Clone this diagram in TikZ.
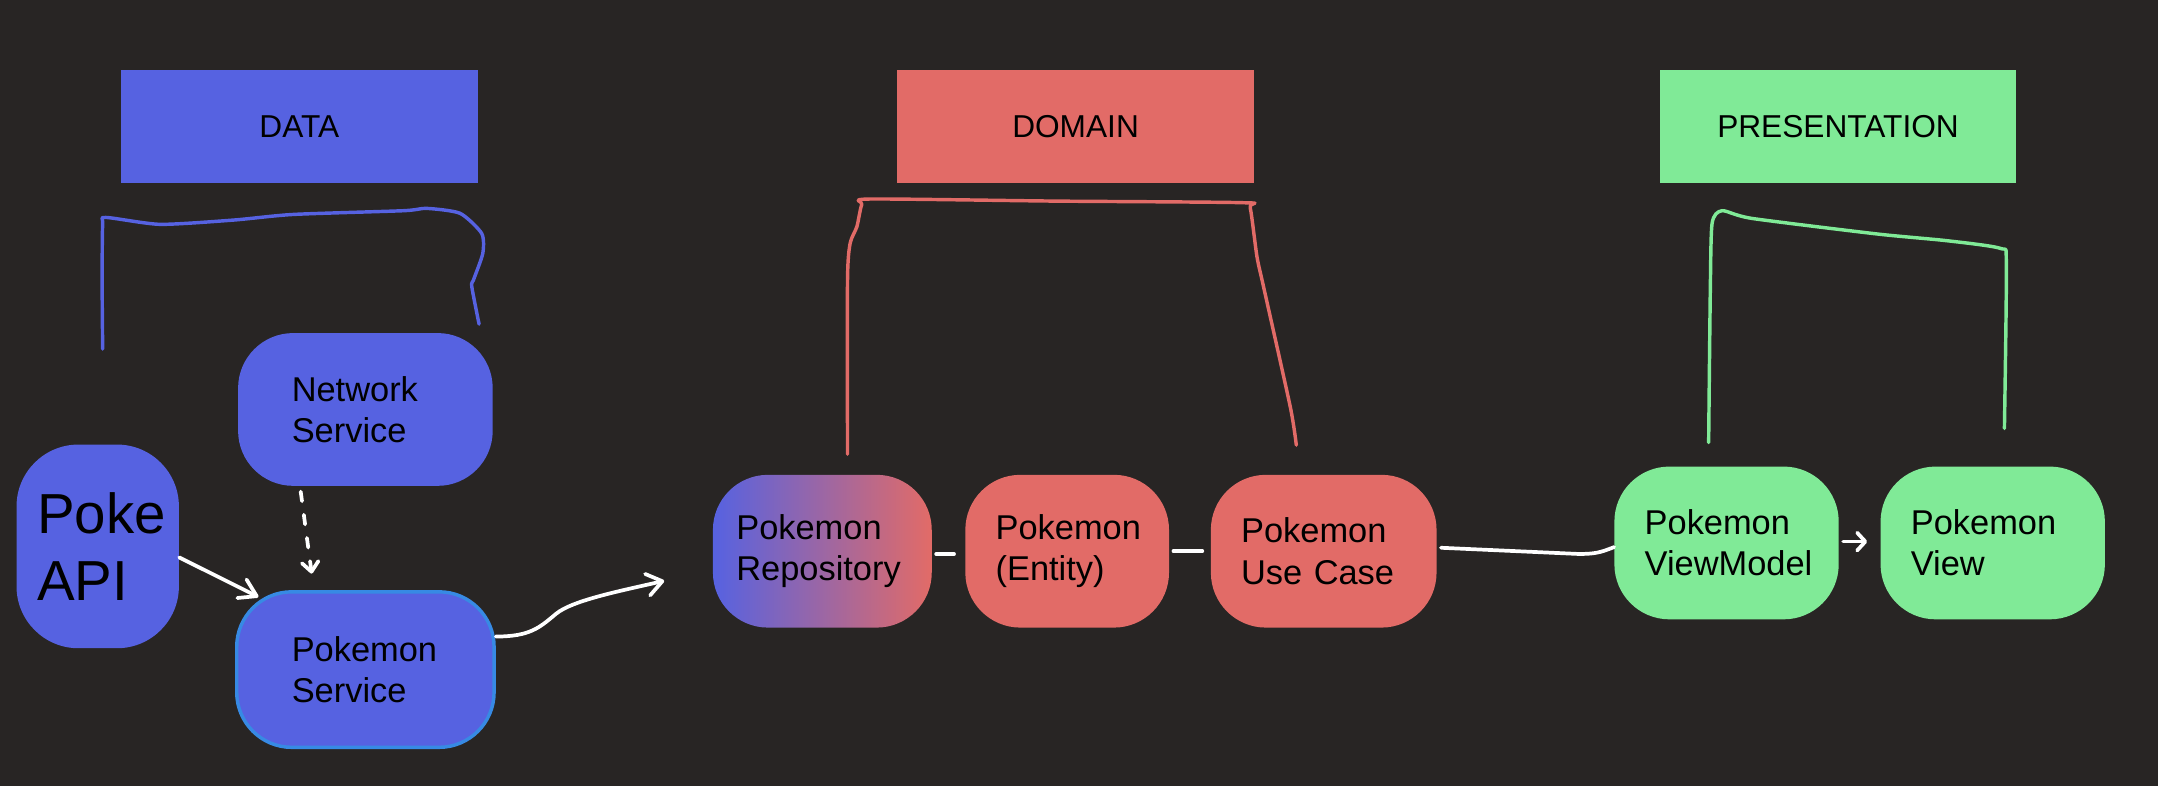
\documentclass[tikz,border=0pt]{standalone}
\usepackage{fontspec}
\setmainfont{Liberation Sans}
\usetikzlibrary{positioning,arrows.meta}
\definecolor{canvas}{RGB}{40,37,36}
\definecolor{datablue}{RGB}{86,98,225}
\definecolor{domainred}{RGB}{226,107,103}
\definecolor{presgreen}{RGB}{128,234,151}
\definecolor{edgeblue}{RGB}{55,138,228}
\tikzset{
    layer/.style={
        rectangle,
        minimum width=259pt,
        minimum height=82pt,
        font=\fontsize{23}{27}\selectfont
    },
    card/.style={
        rectangle,
        rounded corners=40pt,
        minimum height=111pt,
        inner ysep=0pt,
        align=left,
        font=\fontsize{25}{30}\selectfont
    },
    wire/.style={
        draw=white,
        line width=2.7pt,
        line cap=round
    },
    brace/.style={
        line width=2.5pt,
        line cap=round,
        line join=round
    },
}

\begin{document}
\begin{tikzpicture}[x=1pt, y=-1pt]
    \useasboundingbox (0,0) rectangle (1568,571.1);
    \fill[canvas] (0,0) rectangle (1568,571.1);

    % layers
    \node[layer, fill=datablue] (data) at (217.5,92) {DATA};
    \node[layer, fill=domainred] (domain) at (781.5,92) {DOMAIN};
    \node[layer, fill=presgreen] (presentation) at (1335.5,92) {PRESENTATION};

    % blocks
    \node[card, fill=datablue, minimum width=118pt, minimum height=148pt, rounded corners=45pt,
        inner xsep=15pt, text width=88pt, font=\fontsize{41}{49}\selectfont] (pokeapi) at (71,397) {Poke\\API};
    \node[card, fill=datablue, minimum width=185pt, inner xsep=39pt, text width=107pt] (network) at (265.5,297.5) {Network\\Service};
    \node[card, fill=datablue, draw=edgeblue, line width=2.5pt, minimum height=113pt,
        inner xsep=40pt, text width=107pt] (pokeservice) at (265.5,486.5) {Pokemon\\Service};

    \node[card, left color=datablue, right color=domainred, inner xsep=17pt, text width=125pt] (repo) at (597.5,400.5) {Pokemon\\Repository};
    \node[card, fill=domainred, right=24pt of repo, inner xsep=22pt, text width=104pt] (entity) {Pokemon\\(Entity)};
    \node[card, fill=domainred, right=30pt of entity, inner xsep=22pt, text width=120pt] (usecase) {Pokemon\\Use Case};

    \node[card, fill=presgreen, inner xsep=22pt, text width=119pt] (viewmodel) at (1254.5,394.5) {Pokemon\\ViewModel};
    \node[card, fill=presgreen, right=30pt of viewmodel, inner xsep=22pt, text width=119pt] (view) {Pokemon\\View};

    % free end towards the repository
    \coordinate (repoin) at (482.6,422);

    % lines
    \draw[wire, -{Straight Barb[length=12pt, width=15pt, round]}] ([yshift=-8pt]pokeapi.east) -- ([xshift=17pt, yshift=-5pt]pokeservice.north west);
    \draw[wire, dash pattern=on 7pt off 10pt, -{Straight Barb[length=7pt, width=12pt, round]}] ([xshift=-47pt, yshift=-4pt]network.south) -- ([xshift=-39pt, yshift=12pt]pokeservice.north);
    \draw[wire, -{Straight Barb[length=11pt, width=16pt, round]}] ([yshift=24pt]pokeservice.east)
        .. controls +(25,0) and +(-12,10) .. (404,446)
        .. controls +(12,-10) and +(-30,7) .. (repoin);
    \draw[wire, shorten <=3pt, shorten >=8pt] ([yshift=-2pt]repo.east) -- ([yshift=-2pt]entity.west);
    \draw[wire, shorten <=3pt, shorten >=6pt] (entity.east) -- (usecase.west);
    \draw[wire] ([xshift=3pt, yshift=2.5pt]usecase.east) -- ++(100,4.5)
        .. controls +(12,0) and +(-10,4) .. ([yshift=-3pt]viewmodel.west);
    \draw[wire, shorten <=3pt, shorten >=9.5pt, -{Straight Barb[length=6pt, width=13pt, round]}] ([yshift=1pt]viewmodel.east) -- ([yshift=1pt]view.west);

    % brackets
    \draw[brace, datablue] plot[smooth, tension=0.4] coordinates {(74.6,253.6) (74.2,205) (74.6,163) (77,158) (116.3,163) (169.6,159.9) (213.2,155.8) (293.1,153.1) (310,151.4) (334.3,155) (350,169.6) (350.8,184.1) (344,203.5) (342.8,208.3) (348.1,235.5)};
    \draw[brace, domainred] plot[smooth, tension=0.4] coordinates {(615.8,330) (615.8,203.5) (617.7,176.8) (622.6,164.7) (626.2,148.5) (632,144.6) (765.5,146.1) (903.6,147.3) (908.4,151) (913.3,186.5) (918.1,208.4) (937.5,295.6) (941.9,323.4)};
    \draw[brace, presgreen] plot[smooth, tension=0.4] coordinates {(1241.5,321.5) (1242.7,210.8) (1244,162.3) (1251.2,153.1) (1273,158.7) (1363.9,170) (1414.7,174.9) (1453.5,180.5) (1457.8,191.4) (1456.4,311.3)};
\end{tikzpicture}
\end{document}
